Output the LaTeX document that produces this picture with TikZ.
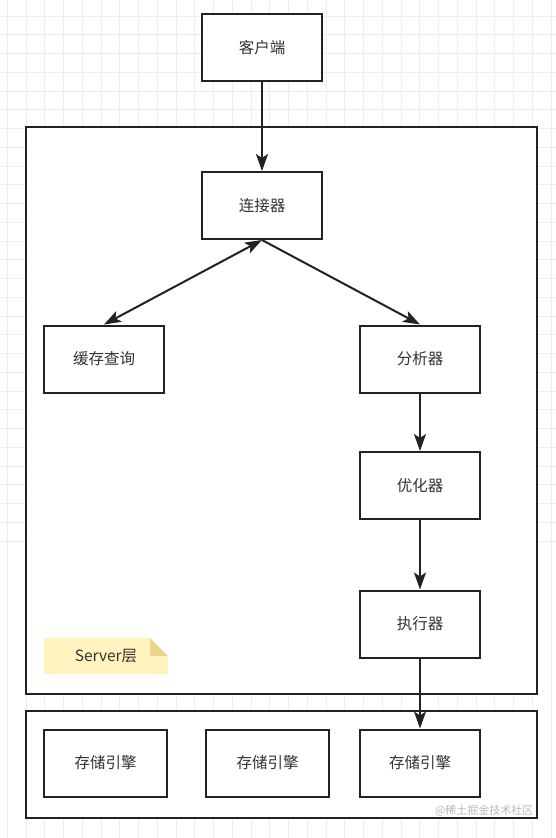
\documentclass[tikz,border=0pt]{standalone}
\usepackage{fontspec}
\newfontfamily\cjk{Noto Sans CJK SC}
\usetikzlibrary{arrows.meta, positioning, calc}

\definecolor{linedark}{HTML}{222222}
\definecolor{textdark}{HTML}{333333}
\definecolor{gridgray}{HTML}{EDEDED}
\definecolor{notefill}{HTML}{FFF4BF}
\definecolor{notefold}{HTML}{E9D58E}

\begin{document}
\begin{tikzpicture}[
    x=1pt, y=-1pt,
    box/.style={rectangle, draw=linedark, line width=2pt, fill=white, minimum width=120pt, minimum height=67pt, text=textdark, font=\cjk\fontsize{15.5}{17}\selectfont},
    frame/.style={rectangle, draw=linedark, line width=2pt, fill=white},
    arrow/.style={-{Stealth[length=17pt, width=12pt, inset=4pt]}, line width=2pt, draw=linedark},
    biarrow/.style={{Stealth[length=17pt, width=12pt, inset=4pt]}-{Stealth[length=17pt, width=12pt, inset=4pt]}, line width=2pt, draw=linedark},
    gridline/.style={draw=gridgray, line width=1pt}
]
    % Spacing constants
    \def\gridstep{18.75}

    % Canvas and grid
    \useasboundingbox (0,0) rectangle (556,838);
    \fill[white] (0,0) rectangle (556,838);
    \foreach \i in {0,...,29} {
        \draw[gridline] (7.25+\gridstep*\i,0) -- ++(0,838);
        \draw[gridline] (0,-2.75+\gridstep*\i) -- ++(556,0);
    }

    % Layers
    \draw[frame] (26,127) rectangle (537,694);
    \draw[frame] (26,711) rectangle (537,818);

    % Nodes
    \node[box] (client) at (262,47.5) {客户端};
    \node[box] (connector) at (262,205.5) {连接器};
    \node[box] (cache) at (104,359) {缓存查询};
    \node[box] (parser) at (420,359) {分析器};
    \node[box] (optimizer) at (420,485.5) {优化器};
    \node[box] (executor) at (420,624) {执行器};

    % Storage engines
    \node[box, minimum width=123pt] (engineA) at (105.5,763) {存储引擎};
    \node[box, minimum width=123pt] (engineB) at (267.5,763) {存储引擎};
    \node[box] (engineC) at (420,763) {存储引擎};

    % Note
    \fill[notefill] (44,638) -- (150,638) -- (168,656) -- (168,674) -- (44,674) -- cycle;
    \fill[notefold] (150,638) -- (150,656) -- (168,656) -- cycle;
    \node[text=textdark, font=\cjk\fontsize{15.5}{17}\selectfont] (note) at (106,656) {Server层};

    % Connectors
    \draw[arrow] (client) -- (connector);
    \draw[biarrow] (connector.south) -- (cache.north);
    \draw[arrow] (connector.south) -- (parser.north);
    \draw[arrow] (parser) -- (optimizer);
    \draw[arrow] (optimizer) -- (executor);
    \draw[arrow] (executor) -- (engineC);

    % Watermark
    \node[text=gray!55, font=\cjk\fontsize{11}{12}\selectfont, anchor=east] (watermark) at (537,811) {@稀土掘金技术社区};

\end{tikzpicture}
\end{document}
